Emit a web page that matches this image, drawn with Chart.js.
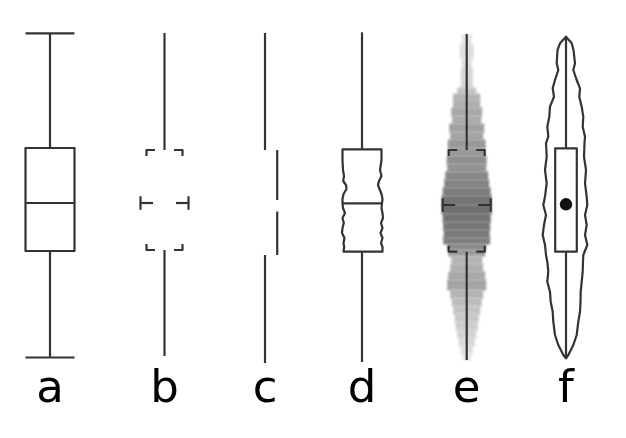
<!DOCTYPE html>
<html>
<head>
<meta charset="utf-8">
<script src="https://cdn.jsdelivr.net/npm/chart.js@4.4.1/dist/chart.umd.min.js"></script>
<style>
  html, body { margin: 0; padding: 0; background: #ffffff; }
  #wrap { width: 626px; height: 438px; }
</style>
</head>
<body>
<div id="wrap"><canvas id="c" width="626" height="438"></canvas></div>
<script>
// ---------- data ----------
const categories = ['a', 'b', 'c', 'd', 'e', 'f'];
const xPositions = [5.0, 16.45, 26.5, 36.2, 46.67, 56.6];

const whiskerHigh   = [32.37, 32.4, 32.4, 32.47, 32.3, 32.03];
const upperQuartile = [20.9, 20.7, 20.7, 20.77, 20.7, 20.87];
const medians       = [15.4, 15.4, 15.1, 15.37, 15.2, 15.27];
const lowerQuartile = [10.6, 10.7, 10.2, 10.53, 10.53, 10.53];
const whiskerLow    = [-0.05, 0.1, -0.6, -0.5, -0.3, -0.13];

// c: gap around the median
const cMedianGap = [14.55, 15.7];

// d: wavy box edges (density-scaled sides)
const dProfileY = [20.77, 19.7, 18.7, 18.1, 17.6, 17.2, 16.8, 16.3, 15.8, 15.37, 14.9, 14.4, 13.9, 13.4, 12.9, 12.4, 11.9, 11.4, 11.0, 10.53];
const dLeft  = [1.95, 1.95, 1.9, 1.8, 1.88, 1.6, 1.55, 1.85, 1.95, 1.95, 1.9, 1.7, 1.95, 1.82, 1.95, 2.0, 1.75, 1.85, 1.78, 1.85];
const dRight = [1.95, 1.95, 1.8, 1.95, 1.7, 1.6, 1.75, 1.95, 2.05, 2.0, 1.95, 2.05, 2.1, 1.9, 2.05, 1.85, 2.05, 1.9, 2.05, 2.05];

// e: shaded density bands
const eBandY = [32.2, 31.2, 29.9, 28.9, 26.9, 26.3, 25.7, 24.9, 24.1, 23.3, 22.5, 21.7, 20.9, 20.1, 19.3, 18.5, 17.7, 16.9, 16.1, 15.2, 14.3, 13.5, 12.7, 11.9, 11.3, 10.7, 10.1, 9.3, 8.5, 7.7, 6.7, 5.9, 5.1, 4.3, 3.5, 2.7, 1.9, 1.1, 0.3, -0.3];
const eHalfWidth = [0.5, 0.7, 0.5, 0.6, 0.95, 1.35, 1.35, 1.55, 1.45, 1.75, 1.65, 1.9, 1.85, 2.0, 1.95, 2.15, 2.25, 2.4, 2.5, 2.5, 2.4, 2.35, 2.3, 2.35, 1.95, 1.85, 1.55, 1.65, 1.85, 1.95, 1.65, 1.5, 1.35, 1.2, 1.1, 0.95, 0.8, 0.62, 0.4];
const eDensity = [0.05, 0.10, 0.11, 0.16, 0.31, 0.44, 0.48, 0.54, 0.52, 0.61, 0.57, 0.67, 0.66, 0.75, 0.72, 0.80, 0.84, 0.90, 0.97, 1.0, 0.97, 0.94, 0.92, 0.89, 0.79, 0.66, 0.44, 0.48, 0.54, 0.57, 0.44, 0.38, 0.31, 0.28, 0.25, 0.20, 0.15, 0.10, 0.05];

// f: violin outline
const fProfileY = [32.03, 31.37, 30.7, 29.37, 28.7, 27.7, 26.87, 26.03, 25.03, 24.03, 23.03, 22.03, 21.37, 20.03, 18.7, 17.37, 16.03, 15.2, 14.2, 13.2, 12.2, 11.2, 10.2, 9.53, 8.53, 7.53, 6.53, 5.53, 4.53, 3.53, 2.2, 1.2, 0.2, -0.13];
const fLeft  = [0, 0.6, 0.85, 0.93, 0.77, 1.1, 1.33, 1.2, 1.6, 1.67, 1.87, 1.77, 2.0, 1.93, 2.1, 1.93, 2.1, 2.27, 2.0, 2.2, 2.33, 2.1, 2.0, 1.87, 1.77, 1.87, 1.6, 1.53, 1.33, 1.27, 1.1, 0.77, 0.27, 0];
const fRight = [0, 0.57, 0.75, 0.9, 0.73, 1.07, 1.4, 1.33, 1.57, 1.73, 1.67, 1.9, 1.85, 1.8, 2.0, 1.9, 2.07, 2.13, 1.9, 2.07, 1.9, 2.13, 1.73, 1.7, 1.67, 1.57, 1.47, 1.45, 1.4, 1.23, 1.07, 0.73, 0.23, 0];

// ---------- styles / sizes ----------
const LINE = '#333333';
const SIZE = {
  boxHalf: 2.45, bracketOuter: 1.8, bracketInner: 0.95, bracketTick: 0.6,
  medTickOuter: 2.4, medTickInner: 1.15, medTickHalfH: 0.68,
  cOffset: 1.22, fBoxHalf: 1.08, dotRadius: 6.2
};
const shade = d => { const g = Math.round(234 - 122 * d); return `rgb(${g},${g},${g})`; };

function polyPath(ctx, pts, move) {
  pts.forEach((p, k) => (k === 0 && move) ? ctx.moveTo(p[0], p[1]) : ctx.lineTo(p[0], p[1]));
}

const drawPlugin = {
  id: 'boxVariants',
  afterDatasetsDraw(chart) {
    const { ctx, scales: { x, y } } = chart;
    const X = v => x.getPixelForValue(v);
    const Y = v => y.getPixelForValue(v);
    ctx.save();
    ctx.strokeStyle = LINE;
    ctx.lineWidth = 2.2;
    ctx.lineJoin = 'round';
    const seg = (x1, y1, x2, y2) => { ctx.beginPath(); ctx.moveTo(X(x1), Y(y1)); ctx.lineTo(X(x2), Y(y2)); ctx.stroke(); };
    const stems = (i) => {
      const c = xPositions[i];
      seg(c, whiskerHigh[i], c, upperQuartile[i]);
      seg(c, lowerQuartile[i], c, whiskerLow[i]);
    };
    const brackets = (i) => {
      const c = xPositions[i], q3 = upperQuartile[i], q1 = lowerQuartile[i], m = medians[i];
      [-1, 1].forEach(s => {
        ctx.beginPath();
        ctx.moveTo(X(c + s * SIZE.bracketOuter), Y(q3 - SIZE.bracketTick));
        ctx.lineTo(X(c + s * SIZE.bracketOuter), Y(q3));
        ctx.lineTo(X(c + s * SIZE.bracketInner), Y(q3));
        ctx.stroke();
        ctx.beginPath();
        ctx.moveTo(X(c + s * SIZE.bracketOuter), Y(q1 + SIZE.bracketTick));
        ctx.lineTo(X(c + s * SIZE.bracketOuter), Y(q1));
        ctx.lineTo(X(c + s * SIZE.bracketInner), Y(q1));
        ctx.stroke();
        seg(c + s * SIZE.medTickOuter, m, c + s * SIZE.medTickInner, m);
        seg(c + s * SIZE.medTickOuter, m - SIZE.medTickHalfH, c + s * SIZE.medTickOuter, m + SIZE.medTickHalfH);
      });
    };

    // a: classic box plot
    {
      const i = 0, c = xPositions[i];
      stems(i);
      seg(c - SIZE.boxHalf, whiskerHigh[i], c + SIZE.boxHalf, whiskerHigh[i]);
      seg(c - SIZE.boxHalf, whiskerLow[i], c + SIZE.boxHalf, whiskerLow[i]);
      ctx.beginPath();
      ctx.rect(X(c - SIZE.boxHalf), Y(upperQuartile[i]), X(c + SIZE.boxHalf) - X(c - SIZE.boxHalf), Y(lowerQuartile[i]) - Y(upperQuartile[i]));
      ctx.stroke();
      seg(c - SIZE.boxHalf, medians[i], c + SIZE.boxHalf, medians[i]);
    }
    // b: minimal brackets
    stems(1);
    brackets(1);
    // c: offset quartile lines
    {
      const i = 2, c = xPositions[i];
      stems(i);
      seg(c + SIZE.cOffset, upperQuartile[i], c + SIZE.cOffset, cMedianGap[1]);
      seg(c + SIZE.cOffset, cMedianGap[0], c + SIZE.cOffset, lowerQuartile[i]);
    }
    // d: box with density-shaped sides
    {
      const i = 3, c = xPositions[i];
      stems(i);
      const right = dProfileY.map((v, k) => [X(c + dRight[k]), Y(v)]);
      const left = dProfileY.map((v, k) => [X(c - dLeft[k]), Y(v)]).reverse();
      ctx.beginPath();
      polyPath(ctx, left.slice(-1).concat(right), true);
      polyPath(ctx, left, false);
      ctx.closePath();
      ctx.stroke();
      const k = dProfileY.indexOf(medians[i]);
      seg(c - dLeft[k], medians[i], c + dRight[k], medians[i]);
    }
    // e: shaded density + brackets
    {
      const i = 4, c = xPositions[i];
      ctx.save();
      ctx.filter = 'blur(1.3px)';
      for (let k = 0; k < eHalfWidth.length; k++) {
        ctx.fillStyle = shade(eDensity[k]);
        const yt = Y(eBandY[k]), yb = Y(eBandY[k + 1]);
        ctx.fillRect(X(c - eHalfWidth[k]), yt - 0.5, X(c + eHalfWidth[k]) - X(c - eHalfWidth[k]), yb - yt + 1);
      }
      ctx.restore();
      stems(i);
      brackets(i);
    }
    // f: violin with inner box and median dot
    {
      const i = 5, c = xPositions[i];
      const left = fProfileY.map((v, k) => [X(c - fLeft[k]), Y(v)]);
      const right = fProfileY.map((v, k) => [X(c + fRight[k]), Y(v)]).reverse();
      ctx.beginPath();
      polyPath(ctx, left, true);
      polyPath(ctx, right, false);
      ctx.closePath();
      ctx.stroke();
      stems(i);
      ctx.beginPath();
      ctx.rect(X(c - SIZE.fBoxHalf), Y(upperQuartile[i]), X(c + SIZE.fBoxHalf) - X(c - SIZE.fBoxHalf), Y(lowerQuartile[i]) - Y(upperQuartile[i]));
      ctx.stroke();
      ctx.beginPath();
      ctx.fillStyle = '#111111';
      ctx.arc(X(c), Y(medians[i]), SIZE.dotRadius, 0, Math.PI * 2);
      ctx.fill();
    }
    ctx.restore();
  }
};

new Chart(document.getElementById('c'), {
  type: 'scatter',
  data: { datasets: [] },
  options: {
    responsive: false,
    animation: false,
    devicePixelRatio: 1,
    layout: { padding: 0 },
    plugins: { legend: { display: false }, tooltip: { enabled: false } },
    scales: {
      x: {
        type: 'linear', position: 'bottom', min: 0, max: 62.6,
        afterBuildTicks: s => { s.ticks = xPositions.map(v => ({ value: v })); },
        afterFit: s => { s.height = 75; },
        grid: { display: false, drawTicks: false },
        border: { display: false },
        ticks: {
          autoSkip: false, maxRotation: 0, minRotation: 0, padding: 0,
          color: '#000000',
          font: { family: 'DejaVu Sans', size: 45 },
          callback: (v, idx) => categories[idx]
        }
      },
      y: { type: 'linear', display: false, min: -0.6, max: 35.7 }
    }
  },
  plugins: [drawPlugin]
});
</script>
</body>
</html>
